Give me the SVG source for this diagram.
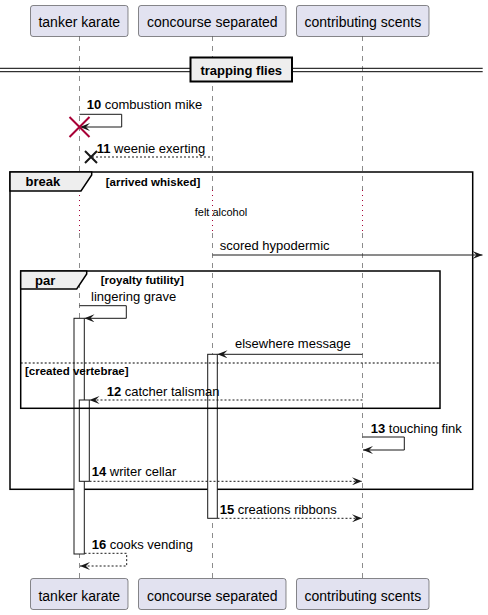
<svg xmlns="http://www.w3.org/2000/svg" width="488" height="615" viewBox="0 0 488 615">
  <style>
    text { font-family: "Liberation Sans", Arial, sans-serif; fill: #000; }
    .part rect { fill: #E2E2F0; stroke: #181818; stroke-width: 0.5; }
    .part text { font-size: 14px; text-anchor: middle; }
    .life { stroke: #181818; stroke-width: 0.5; stroke-dasharray: 5,5; fill: none; }
    .delay { stroke: #A80036; stroke-width: 1; stroke-dasharray: 1,4; fill: none; }
    .msg { stroke: #181818; stroke-width: 1; fill: none; marker-end: url(#head); }
    .ret { stroke: #181818; stroke-width: 1; fill: none; stroke-dasharray: 2,2; marker-end: url(#head); }
    .plain { stroke: #181818; stroke-width: 1; fill: none; stroke-dasharray: 2,2; }
    .lbl { font-size: 13px; }
    .lbl tspan.n { font-weight: bold; }
    .act { fill: #FFFFFF; stroke: #181818; stroke-width: 1; }
    .frame { fill: none; stroke: #000; stroke-width: 1.5; }
    .tab { fill: #EEEEEE; stroke: #000; stroke-width: 1.5; }
    .ftitle { font-size: 13px; font-weight: bold; }
    .guard { font-size: 11.5px; font-weight: bold; }
  </style>
  <defs>
    <marker id="head" viewBox="0 0 10 8" refX="10" refY="4" markerWidth="10" markerHeight="8" markerUnits="userSpaceOnUse" orient="auto">
      <path d="M0,0 L10,4 L0,8 L4,4 Z" fill="#181818"/>
    </marker>
  </defs>

  <!-- lifelines -->
  <g id="lifelines">
    <path class="life" d="M79.5,36 V190 M79.5,233 V578"/>
    <path class="life" d="M212.5,36 V190 M212.5,233 V578"/>
    <path class="life" d="M362.5,36 V190 M362.5,233 V578"/>
    <path class="delay" d="M79.5,190 V233 M212.5,190 V233 M362.5,190 V233"/>
  </g>

  <!-- participants, head and foot -->
  <g id="tanker-karate" class="part">
    <rect x="30.5" y="5.5" width="97.5" height="31" rx="2.5"/>
    <text x="79.3" y="27">tanker karate</text>
    <rect x="30.5" y="578.5" width="97.5" height="31" rx="2.5"/>
    <text x="79.3" y="600.5">tanker karate</text>
  </g>
  <g id="concourse-separated" class="part">
    <rect x="138.5" y="5.5" width="147.5" height="31" rx="2.5"/>
    <text x="212.3" y="27">concourse separated</text>
    <rect x="138.5" y="578.5" width="147.5" height="31" rx="2.5"/>
    <text x="212.3" y="600.5">concourse separated</text>
  </g>
  <g id="contributing-scents" class="part">
    <rect x="296.5" y="5.5" width="132.5" height="31" rx="2.5"/>
    <text x="362.8" y="27">contributing scents</text>
    <rect x="296.5" y="578.5" width="132.5" height="31" rx="2.5"/>
    <text x="362.8" y="600.5">contributing scents</text>
  </g>

  <!-- divider -->
  <g id="divider-trapping-flies">
    <path d="M0,68.3 H190 M0,71.7 H190 M292,68.3 H482.7 M292,71.7 H482.7" stroke="#000" stroke-width="1" fill="none"/>
    <rect x="190.5" y="57.5" width="101.5" height="24" fill="#EEEEEE" stroke="#000" stroke-width="2"/>
    <text class="ftitle" x="241.3" y="75.3" text-anchor="middle">trapping flies</text>
  </g>

  <!-- break frame -->
  <g id="break-arrived-whisked">
    <rect class="frame" x="10" y="172" width="462.7" height="317.3"/>
    <path class="tab" d="M10,172 H91.7 V175 L81,191 H10 Z"/>
    <text class="ftitle" x="25.5" y="186">break</text>
    <text class="guard" x="105.7" y="185.7">[arrived whisked]</text>
  </g>

  <!-- delay -->
  <g id="delay-felt-alcohol">
    <text x="221" y="215.7" font-size="11" text-anchor="middle">felt alcohol</text>
  </g>

  <!-- activations -->
  <g id="activations">
    <rect class="act" x="74" y="318.3" width="10.3" height="235.7"/>
    <rect class="act" x="79.3" y="400" width="10" height="81.3"/>
    <rect class="act" x="207.7" y="354.3" width="9.6" height="164"/>
  </g>

  <!-- par frame, drawn over the activation bars -->
  <g id="par-royalty-futility">
    <rect class="frame" x="20.7" y="271" width="419.3" height="137.3"/>
    <path class="tab" d="M20.7,271 H86.7 V274 L76.7,289 H20.7 Z"/>
    <text class="ftitle" x="35" y="285">par</text>
    <text class="guard" x="100.7" y="284">[royalty futility]</text>
    <path d="M20.7,363 H440" stroke="#000" stroke-width="1" stroke-dasharray="2,2" fill="none"/>
    <text class="guard" x="25" y="375">[created vertebrae]</text>
  </g>

  <!-- messages -->
  <g id="connectors">
    <path class="msg" d="M79.5,114.3 H121.7 V127 H80"/>
    <text class="lbl" x="86.7" y="109"><tspan class="n">10</tspan> combustion mike</text>
    <path d="M69.5,117 L89.5,137 M89.5,117 L69.5,137" stroke="#A80036" stroke-width="2"/>

    <path class="plain" d="M210,157 H91"/>
    <path d="M85,151 L97,163 M97,151 L85,163" stroke="#181818" stroke-width="2"/>
    <text class="lbl" x="96.7" y="153.3"><tspan class="n">11</tspan> weenie exerting</text>

    <path class="msg" d="M212.5,255 H482.5"/>
    <text class="lbl" x="219.7" y="249.5">scored hypodermic</text>

    <path class="msg" d="M79.5,305.7 H126.3 V318.3 H84.5"/>
    <text class="lbl" x="91" y="301">lingering grave</text>

    <path class="msg" d="M362.5,354.3 H217.5"/>
    <text class="lbl" x="235" y="348.3">elsewhere message</text>

    <path class="ret" d="M362.5,400 H89.5"/>
    <text class="lbl" x="106.7" y="395.7"><tspan class="n">12</tspan> catcher talisman</text>

    <path class="msg" d="M362.5,437 H404.3 V450 H363"/>
    <text class="lbl" x="370.7" y="432.7"><tspan class="n">13</tspan> touching fink</text>

    <path class="ret" d="M89.5,481.3 H362"/>
    <text class="lbl" x="91.7" y="475.7"><tspan class="n">14</tspan> writer cellar</text>

    <path class="ret" d="M217.5,518.3 H362"/>
    <text class="lbl" x="219.7" y="513.7"><tspan class="n">15</tspan> creations ribbons</text>

    <path class="ret" d="M84.5,553.3 H126.7 V566 H80"/>
    <text class="lbl" x="91.7" y="549"><tspan class="n">16</tspan> cooks vending</text>
  </g>
</svg>
